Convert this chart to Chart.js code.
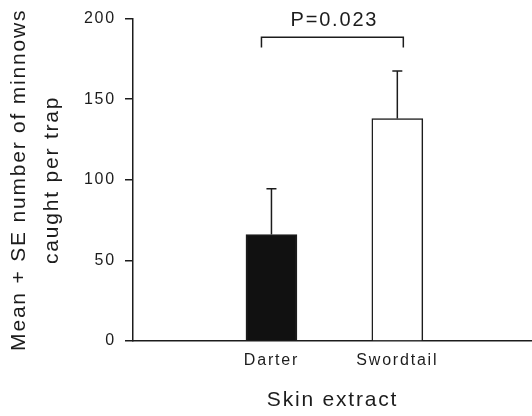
<!DOCTYPE html>
<html>
<head>
<meta charset="utf-8">
<script src="https://cdn.jsdelivr.net/npm/chart.js@4/dist/chart.umd.min.js"></script>
<style>
  body { margin: 0; background: #fff; }
</style>
</head>
<body>
<canvas id="minnows" width="532" height="416"></canvas>
<script>
var extracts = ["Darter", "Swordtail"]
var meanCaught = [66, 138]
var seCaught = [28.5, 29.5]
var barColors = ["#111111", "#ffffff"]
var yTicks = [0, 50, 100, 150, 200]
var pLabel = "P=0.023"

var ink = "#1c1c1c"
var fontFamily = "'Liberation Sans', Arial, sans-serif"

// canvas has no letterSpacing option in Chart.js, so set it on the context
var spacing = {
    id: "spacing",
    beforeLayout: function(chart){ chart.ctx.letterSpacing = "1.8px" },
    beforeDraw: function(chart){ chart.ctx.letterSpacing = "1.8px" }
}

// upper error whiskers plus the significance bracket
var extras = {
    id: "extras",
    afterDatasetsDraw: function(chart){
        var ctx = chart.ctx
        var x = chart.scales.x
        var y = chart.scales.y
        ctx.save()
        ctx.strokeStyle = ink
        ctx.lineWidth = 1.5
        for (var i = 0; i < meanCaught.length; i++) {
            var cx = x.getPixelForValue(i + 1)
            var yTop = y.getPixelForValue(meanCaught[i])
            var yErr = y.getPixelForValue(meanCaught[i] + seCaught[i])
            ctx.beginPath()
            ctx.moveTo(cx, yTop)
            ctx.lineTo(cx, yErr)
            ctx.moveTo(cx - 5, yErr)
            ctx.lineTo(cx + 5, yErr)
            ctx.stroke()
        }
        var left = x.getPixelForValue(1) - 10
        var right = x.getPixelForValue(2) + 6
        var top = y.getPixelForValue(188.5)
        var foot = y.getPixelForValue(182)
        ctx.beginPath()
        ctx.moveTo(left, foot)
        ctx.lineTo(left, top)
        ctx.lineTo(right, top)
        ctx.lineTo(right, foot)
        ctx.stroke()
        ctx.fillStyle = ink
        ctx.font = "20px " + fontFamily
        ctx.textAlign = "center"
        ctx.textBaseline = "middle"
        ctx.fillText(pLabel, (left + right) / 2 + 2, y.getPixelForValue(199))
        ctx.restore()
    }
}

var canvas = document.querySelector("#minnows")

var barChart = new Chart(canvas, {
    type: "bar",
    data: {
        datasets: [{
            data: meanCaught.map(function(v, i){ return {x: i + 1, y: v} }),
            backgroundColor: barColors,
            borderColor: ink,
            borderWidth: 1.5,
            barThickness: 51
        }]
    },
    options: {
        responsive: false,
        animation: false,
        layout: { padding: { top: 13, right: 0, bottom: 0, left: 0 } },
        plugins: {
            legend: { display: false },
            tooltip: { enabled: false }
        },
        scales: {
            x: {
                type: "linear",
                offset: false,
                min: -0.1,
                max: 3.07,
                grid: { display: false, drawTicks: false },
                border: { display: true, color: ink, width: 1.5 },
                afterBuildTicks: function(scale){
                    scale.ticks = extracts.map(function(c, i){ return {value: i + 1} })
                },
                afterFit: function(scale){ scale.height = 75 },
                ticks: {
                    autoSkip: false,
                    maxRotation: 0,
                    padding: 10,
                    color: ink,
                    font: { family: fontFamily, size: 16 },
                    callback: function(value){ return extracts[value - 1] || "" }
                },
                title: {
                    display: true,
                    text: "Skin extract",
                    color: ink,
                    font: { family: fontFamily, size: 21, lineHeight: 1.2 },
                    padding: { top: 0, bottom: 3 }
                }
            },
            y: {
                min: 0,
                max: 200,
                afterBuildTicks: function(scale){
                    scale.ticks = yTicks.map(function(v){ return {value: v} })
                },
                afterFit: function(scale){ scale.width = 133 },
                grid: { drawOnChartArea: false, tickLength: 8, color: ink, lineWidth: 1.5 },
                border: { display: true, color: ink, width: 1.5 },
                ticks: {
                    padding: 9,
                    color: ink,
                    font: { family: fontFamily, size: 16 }
                },
                title: {
                    display: true,
                    text: ["Mean + SE number of minnows", "caught per trap"],
                    color: ink,
                    font: { family: fontFamily, size: 21, lineHeight: 1.55 },
                    padding: { top: 3, bottom: 0 }
                }
            }
        }
    },
    plugins: [spacing, extras]
})
</script>
</body>
</html>
